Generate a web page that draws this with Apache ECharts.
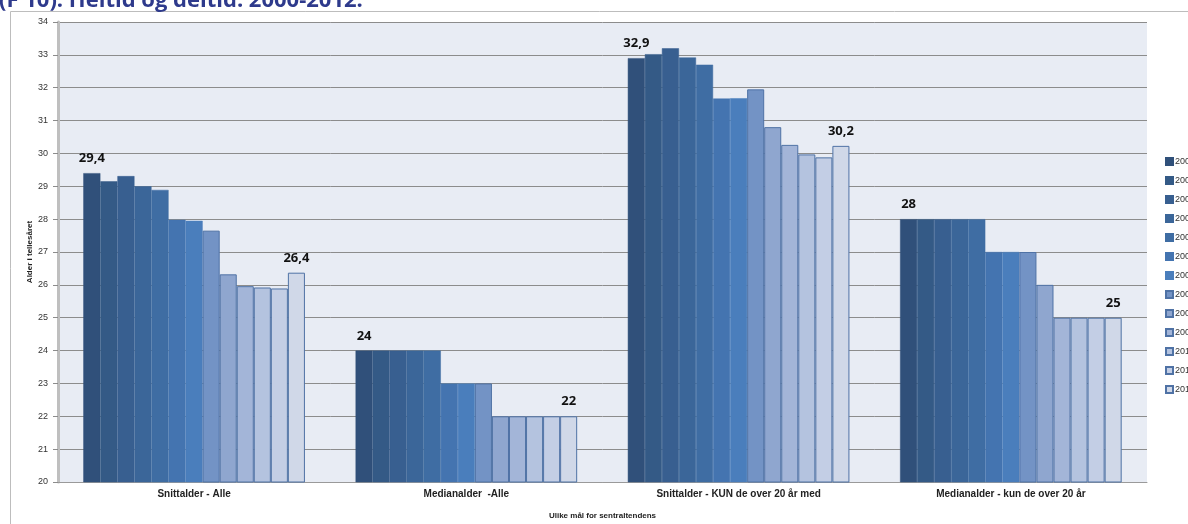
<!DOCTYPE html>
<html><head><meta charset="utf-8">
<script src="https://cdn.jsdelivr.net/npm/echarts@6/dist/echarts.min.js"></script>
<style>html,body{margin:0;padding:0;background:#fff}#c{width:1188px;height:524px}</style>
</head><body><div id="c"></div>
<script>
const categories = ['Snittalder - Alle', 'Medianalder  -Alle', 'Snittalder - KUN de over 20 år med', 'Medianalder - kun de over 20 år'];
const years = ['2000','2001','2002','2003','2004','2005','2006','2007','2008','2009','2010','2011','2012'];
const v2000 = [29.4, 24, 32.9, 28];
const v2001 = [29.15, 24, 33.02, 28];
const v2002 = [29.31, 24, 33.2, 28];
const v2003 = [29.0, 24, 32.92, 28];
const v2004 = [28.89, 24, 32.7, 28];
const v2005 = [27.98, 23, 31.67, 27];
const v2006 = [27.95, 23, 31.68, 27];
const v2007 = [27.65, 23, 31.95, 27];
const v2008 = [26.32, 22, 30.8, 26];
const v2009 = [25.96, 22, 30.26, 25];
const v2010 = [25.92, 22, 29.97, 25];
const v2011 = [25.89, 22, 29.88, 25];
const v2012 = [26.37, 22, 30.23, 25];
const yTicks = [20,21,22,23,24,25,26,27,28,29,30,31,32,33,34];
const allValues = [v2000,v2001,v2002,v2003,v2004,v2005,v2006,v2007,v2008,v2009,v2010,v2011,v2012];
const colors = ['#30507A','#345A86','#385F90','#3B6699','#3F6DA3','#4474B0','#4A7EBC','#7393C5','#8FA6CF','#A3B5D8','#B4C3DF','#C3CEE5','#D0D8E8'];
const borders = ['#30507A','#345A86','#385F90','#3B6699','#3F6DA3','#4474B0','#4A7EBC','#4F72A5','#4F72A5','#4F72A5','#4F72A5','#4F72A5','#4F72A5'];

const chart = echarts.init(document.getElementById('c'));
const series = years.map((y, i) => ({
  name: y, type: 'bar', data: allValues[i],
  barGap: '0%', barCategoryGap: '18.6%',
  itemStyle: { color: colors[i], borderColor: borders[i], borderWidth: i >= 7 ? 1 : 0.5 },
  label: (i === 0 || i === 12) ? {
    show: true, position: 'top', distance: 8, color: '#111', fontWeight: 'bold', fontSize: 13,
    fontFamily: 'Open Sans, sans-serif',
    formatter: p => String(Math.round(p.value * 10) / 10).replace('.', ',')
  } : { show: false }
}));

chart.setOption({
  animation: false,
  graphic: [
    { type: 'rect', shape: { x: 10.5, y: 11.5, width: 1200, height: 600 }, style: { fill: 'none', stroke: '#BDBDBD', lineWidth: 1 }, z: 0 },
    { type: 'text', left: -1, top: -10, style: { text: '(F 10). Heltid og deltid. 2000-2012.', fill: '#2E3A8C', font: 'bold 22px "Open Sans", sans-serif' }, z: 10 }
  ],
  legend: {
    orient: 'vertical', left: 1160, top: 152, itemWidth: 7, itemHeight: 7, itemGap: 10,
    textStyle: { fontSize: 9, color: '#333', fontFamily: 'Liberation Sans, sans-serif', padding: [0,0,0,-3] },
    data: years, icon: 'rect'
  },
  grid: { left: 58, right: 41, top: 22, bottom: 42, show: true, backgroundColor: '#E8ECF4', borderWidth: 0, outerBoundsMode: 'none', containLabel: false },
  xAxis: {
    type: 'category', data: categories,
    axisLine: { lineStyle: { color: '#9A9A9A', width: 1 } },
    axisTick: { show: false },
    axisLabel: { fontSize: 10, fontWeight: 'bold', color: '#222', fontFamily: 'Liberation Sans Narrow, sans-serif', margin: 7 },
    name: 'Ulike mål for sentraltendens', nameLocation: 'middle', nameGap: 30, nameMoveOverlap: false,
    nameTextStyle: { fontSize: 8, fontWeight: 'bold', color: '#222', fontFamily: 'Liberation Sans Narrow, sans-serif' }
  },
  yAxis: {
    type: 'value', min: yTicks[0], max: yTicks[yTicks.length - 1], interval: 1,
    axisLine: { show: true, lineStyle: { color: '#BFBFBF', width: 3 } },
    axisTick: { show: true, length: 5, lineStyle: { color: '#8C8C8C' } },
    axisLabel: { fontSize: 9, color: '#333', fontFamily: 'Liberation Sans, sans-serif', margin: 10 },
    splitLine: { lineStyle: { color: '#8C8C8C', width: 1 } },
    name: 'Alder i tellesåret', nameLocation: 'middle', nameGap: 24, nameRotate: 90, nameMoveOverlap: false,
    nameTextStyle: { fontSize: 8, fontWeight: 'bold', color: '#222', fontFamily: 'Liberation Sans Narrow, sans-serif' }
  },
  series: series
});
</script></body></html>
